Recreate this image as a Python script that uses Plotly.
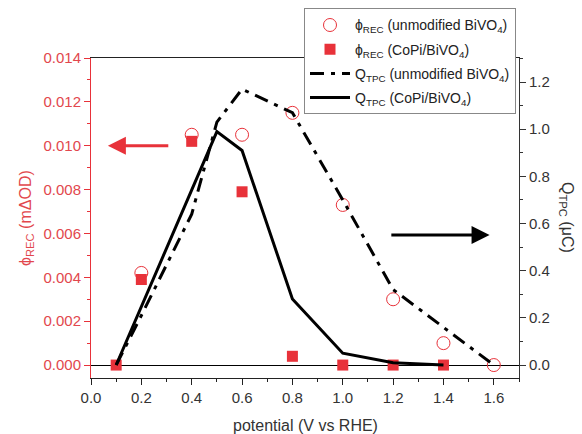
import plotly.graph_objects as go

# ---- data ----
x_rec_unmod = [0.2, 0.4, 0.6, 0.8, 1.0, 1.2, 1.4, 1.6]
phi_rec_unmod = [0.0042, 0.0105, 0.0105, 0.0115, 0.0073, 0.0030, 0.0010, 0.0]

x_rec_copi = [0.1, 0.2, 0.4, 0.6, 0.8, 1.0, 1.2, 1.4]
phi_rec_copi = [0.0, 0.0039, 0.0102, 0.0079, 0.0004, 0.0, 0.0, 0.0]

x_tpc_unmod = [0.1, 0.2, 0.4, 0.5, 0.6, 0.8, 1.0, 1.2, 1.4, 1.6]
q_tpc_unmod = [0.0, 0.21, 0.64, 1.03, 1.17, 1.07, 0.70, 0.32, 0.16, 0.0]

x_tpc_copi = [0.1, 0.5, 0.6, 0.8, 1.0, 1.2, 1.4]
q_tpc_copi = [0.0, 0.99, 0.91, 0.28, 0.05, 0.01, 0.0]

RED = "#e8323a"
FONT = "Liberation Sans, Arial, sans-serif"
PHI = "\u03d5"

fig = go.Figure()
fig.add_trace(go.Scatter(
    x=x_rec_unmod, y=phi_rec_unmod, mode="markers", legendgroup="a",
    marker=dict(symbol="circle-open", size=13, color=RED, line=dict(width=1)),
    name=PHI + "<sub>REC</sub> (unmodified BiVO<sub>4</sub>)", yaxis="y"))
fig.add_trace(go.Scatter(
    x=x_rec_copi, y=phi_rec_copi, mode="markers", legendgroup="b",
    marker=dict(symbol="square", size=11, color=RED),
    name=PHI + "<sub>REC</sub> (CoPi/BiVO<sub>4</sub>)", yaxis="y"))
fig.add_trace(go.Scatter(
    x=x_tpc_unmod, y=q_tpc_unmod, mode="lines", legendgroup="c",
    line=dict(color="black", width=3, dash="14px,7px,4px,7px"),
    name="Q<sub>TPC</sub> (unmodified BiVO<sub>4</sub>)", yaxis="y2"))
fig.add_trace(go.Scatter(
    x=x_tpc_copi, y=q_tpc_copi, mode="lines", legendgroup="d",
    line=dict(color="black", width=3),
    name="Q<sub>TPC</sub> (CoPi/BiVO<sub>4</sub>)", yaxis="y2"))

fig.update_layout(
    width=582, height=434,
    margin=dict(l=91, r=63, t=58, b=56, autoexpand=False),
    paper_bgcolor="white", plot_bgcolor="white",
    font=dict(family=FONT, size=15, color="#333333"),
    showlegend=True,
    legend=dict(x=0.993, y=1.155, xanchor="right", yanchor="top",
                bgcolor="white", bordercolor="#888888", borderwidth=1,
                font=dict(size=14, color="#222222"), tracegroupgap=3,
                itemwidth=40),
    xaxis=dict(range=[0, 1.7], dtick=0.2, tick0=0, tickformat=".1f",
               showline=True, linecolor="#222222", linewidth=1, mirror=True,
               ticks="outside", ticklen=6, tickcolor="#222222",
               minor=dict(dtick=0.1, ticks="outside", ticklen=3, tickcolor="#222222"),
               showgrid=False, zeroline=False, automargin=False,
               tickfont=dict(size=15, color="#333333")),
    yaxis=dict(range=[-0.00059, 0.014], dtick=0.002, tick0=0, tickformat=".3f",
               showline=True, linecolor=RED, linewidth=1,
               ticks="outside", ticklen=6, tickcolor=RED,
               minor=dict(dtick=0.001, ticks="outside", ticklen=3, tickcolor=RED),
               showgrid=False, zeroline=True, zerolinecolor="black", zerolinewidth=1,
               automargin=False,
               tickfont=dict(size=15, color="#e2474d")),
    yaxis2=dict(range=[-0.055, 1.302], dtick=0.2, tick0=0, tickformat=".1f",
                overlaying="y", side="right",
                showline=True, linecolor="#333333", linewidth=1,
                ticks="outside", ticklen=6, tickcolor="#333333",
                minor=dict(dtick=0.1, ticks="outside", ticklen=3, tickcolor="#333333"),
                showgrid=False, zeroline=False, automargin=False,
                tickfont=dict(size=15, color="#333333")),
)

annotations = [
    dict(text=PHI + "<sub>REC</sub> (mΔOD)", xref="paper", yref="paper",
         x=-0.152, y=0.5, xanchor="center", yanchor="middle",
         textangle=-90, showarrow=False,
         font=dict(size=16, color="#e2474d", family=FONT)),
    dict(text="Q<sub>TPC</sub> (μC)", xref="paper", yref="paper",
         x=1.112, y=0.5, xanchor="center", yanchor="middle",
         textangle=90, showarrow=False,
         font=dict(size=16, color="#333333", family=FONT)),
    dict(text="potential (V vs RHE)", xref="paper", yref="paper",
         x=0.5, y=-0.147, xanchor="center", yanchor="middle", showarrow=False,
         font=dict(size=16, color="#333333", family=FONT)),
    dict(text="", x=0.067, y=0.010, ax=0.313, ay=0.010,
         xref="x", yref="y", axref="x", ayref="y",
         showarrow=True, arrowhead=2, arrowsize=1.2, arrowwidth=3, arrowcolor=RED),
    dict(text="", x=1.583, y=0.551, ax=1.187, ay=0.551,
         xref="x", yref="y2", axref="x", ayref="y2",
         showarrow=True, arrowhead=2, arrowsize=1.2, arrowwidth=3, arrowcolor="black"),
]
fig.update_layout(annotations=annotations)

fig.write_html("out.html",
               config={"displayModeBar": False},
               post_script="document.body.style.margin='0px';document.body.style.overflow='hidden';")
